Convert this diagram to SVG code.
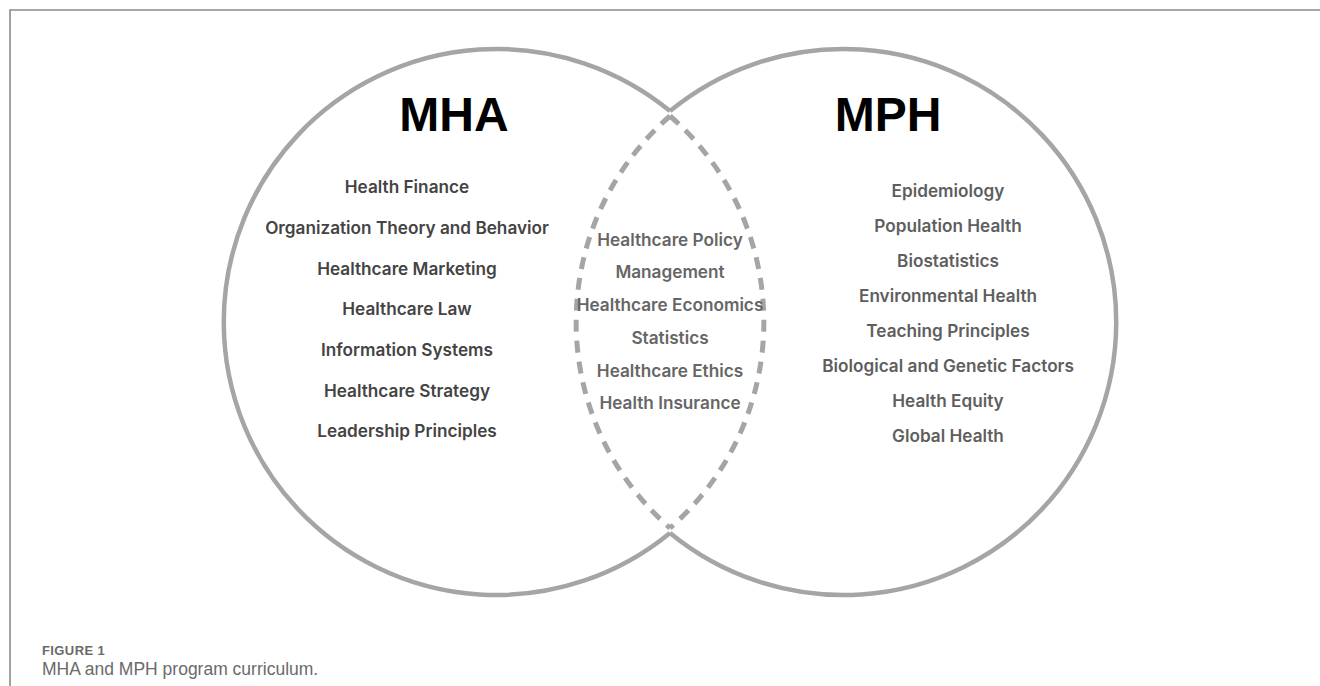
<svg xmlns="http://www.w3.org/2000/svg" width="1320" height="686" viewBox="0 0 1320 686">
  <style>
    .frame { fill: none; stroke: #8a8a8a; stroke-width: 1.6; }
    .ring { fill: none; stroke: #a5a5a5; stroke-width: 4.5; }
    .lens { fill: none; stroke: #a5a5a5; stroke-width: 5; stroke-dasharray: 12 9; }
    .title { font-family: "Liberation Sans", Arial, sans-serif; font-weight: 700; font-size: 48px; fill: #000; text-anchor: middle; }
    .item { font-family: "Inter", "Liberation Sans", sans-serif; font-weight: 600; font-size: 17.2px; text-anchor: middle; }
    .mha { fill: #444; }
    .core { fill: #666; }
    .mph { fill: #5e5e5e; }
    .cap-label { font-family: "Liberation Sans", Arial, sans-serif; font-weight: 700; font-size: 13px; letter-spacing: 0.4px; fill: #6a6a6a; }
    .cap-text { font-family: "Liberation Sans", Arial, sans-serif; font-weight: 400; font-size: 17.5px; fill: #6a6a6a; }
  </style>

  <rect width="1320" height="686" fill="#fff"/>
  <!-- figure frame: top and left rules only -->
  <path class="frame" d="M10,686 V10 H1320"/>

  <!-- circle outlines: solid outer arcs, dashed overlap lens -->
  <g id="connectors">
    <path class="ring" d="M670,111 A273,273 0 1 0 670,533"/>
    <path class="ring" d="M670,111 A273,273 0 1 1 670,533"/>
    <path class="lens" d="M670,116 A273,273 0 0 1 670,528"/>
    <path class="lens" d="M670,116 A273,273 0 0 0 670,528"/>
  </g>

  <g id="mha">
    <text class="title" x="454" y="131">MHA</text>
    <g class="item mha">
      <text x="407" y="193">Health Finance</text>
      <text x="407" y="234">Organization Theory and Behavior</text>
      <text x="407" y="275">Healthcare Marketing</text>
      <text x="407" y="315">Healthcare Law</text>
      <text x="407" y="356">Information Systems</text>
      <text x="407" y="397">Healthcare Strategy</text>
      <text x="407" y="437">Leadership Principles</text>
    </g>
  </g>

  <g id="shared">
    <g class="item core">
      <text x="670" y="246">Healthcare Policy</text>
      <text x="670" y="278">Management</text>
      <text x="670" y="311">Healthcare Economics</text>
      <text x="670" y="344">Statistics</text>
      <text x="670" y="377">Healthcare Ethics</text>
      <text x="670" y="409">Health Insurance</text>
    </g>
  </g>

  <g id="mph">
    <text class="title" x="888" y="131">MPH</text>
    <g class="item mph">
      <text x="948" y="197">Epidemiology</text>
      <text x="948" y="232">Population Health</text>
      <text x="948" y="267">Biostatistics</text>
      <text x="948" y="302">Environmental Health</text>
      <text x="948" y="337">Teaching Principles</text>
      <text x="948" y="372">Biological and Genetic Factors</text>
      <text x="948" y="407">Health Equity</text>
      <text x="948" y="442">Global Health</text>
    </g>
  </g>

  <g id="caption">
    <text class="cap-label" x="42" y="655">FIGURE 1</text>
    <text class="cap-text" x="42" y="675">MHA and MPH program curriculum.</text>
  </g>
</svg>
